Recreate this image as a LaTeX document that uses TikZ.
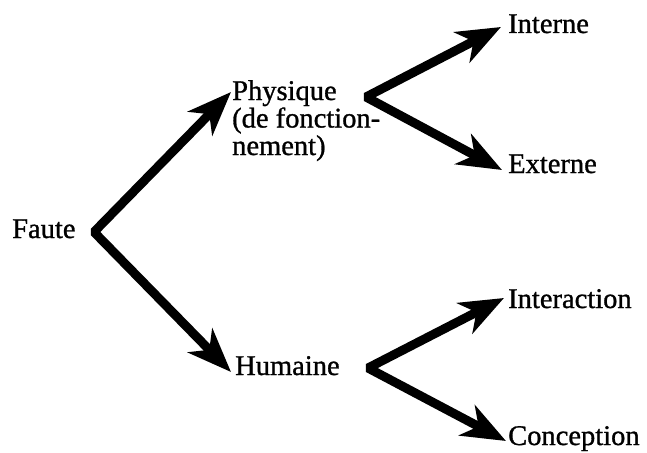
\documentclass[tikz,border=0pt]{standalone}
\usepackage{fontspec}
\setmainfont{Liberation Serif}[FakeBold=1]
\usetikzlibrary{arrows.meta}
\begin{document}
\begin{tikzpicture}[x=1pt,y=-1pt,
  label/.style={inner sep=0pt, anchor=base west, align=left,
    font=\fontsize{28.5}{27.5}\selectfont},
  branch/.style={line width=9pt, line join=bevel,
    >={Stealth[length=44pt,width=34pt,inset=13pt]}, <->}]
  \useasboundingbox (0,0) rectangle (647,452);

  % labels of the tree (multi-line labels sit on their last baseline)
  \node[label] (faute)    at (12,238)  {Faute};
  \node[label] (physique) at (232,155) {Physique\\(de fonction-\\nement)};
  \node[label] (humaine)  at (235,375) {Humaine};
  \node[label] (interne)  at (508,33)  {Interne};
  \node[label] (externe)  at (508,173) {Externe};
  \node[label] (interaction) at (508,308) {Interaction};
  \node[label] (conception)  at (508,445) {Conception};

  % branching points and arrow tips
  \coordinate (v-faute) at (94,232);
  \coordinate (v-phys)  at (366,97);
  \coordinate (v-hum)   at (368,368);
  \coordinate (t-phys)  at (231,92);
  \coordinate (t-hum)   at (231,372);
  \coordinate (t-int)   at (501,27);
  \coordinate (t-ext)   at (502,170);
  \coordinate (t-inter) at (504,298);
  \coordinate (t-conc)  at (506,441);

  \draw[branch] (t-phys) -- (v-faute) -- (t-hum);
  \draw[branch] (t-int) -- (v-phys) -- (t-ext);
  \draw[branch] (t-inter) -- (v-hum) -- (t-conc);
\end{tikzpicture}
\end{document}
